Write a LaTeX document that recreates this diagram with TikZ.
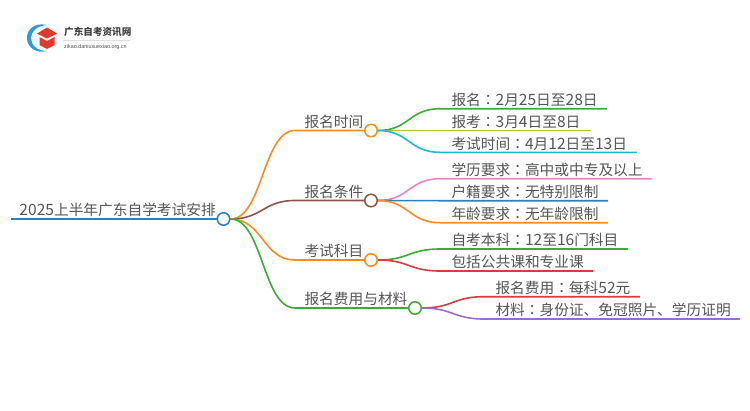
\documentclass[tikz,border=0pt]{standalone}
\usepackage{xcolor}
\usepackage{fontspec}
\setmainfont{Noto Sans CJK SC}
\newfontfamily\tcfont{Noto Sans CJK TC}
\newfontfamily\numfont[Scale=1.06]{Noto Sans CJK SC}
\newfontfamily\urlfont{Liberation Sans}
\usetikzlibrary{calc, backgrounds}
\definecolor{txtgray}{HTML}{555555}
\definecolor{cblue}{HTML}{2F7FBF}
\definecolor{corange}{HTML}{FF8A1E}
\definecolor{cbrown}{HTML}{8C564B}
\definecolor{cgreen}{HTML}{3DAA35}
\definecolor{colive}{HTML}{BCBD22}
\definecolor{ccyan}{HTML}{17BECF}
\definecolor{cpink}{HTML}{E884CC}
\definecolor{cred}{HTML}{DC3A3C}
\definecolor{cpurple}{HTML}{9A6CCB}
\definecolor{logoblue}{HTML}{2A9BDC}
\definecolor{logored}{HTML}{E03A2F}
\newcommand{\fwcolon}{{\tcfont：}}
\newcommand{\dg}[1]{{\numfont #1}}

\begin{document}
\begin{tikzpicture}[
    x=1pt, y=-1pt,
    dot/.style={circle, draw, fill=white, line width=1.5pt, minimum size=12.5pt, inner sep=0pt},
    label/.style={anchor=base west, inner sep=0pt, yshift=3.2pt, xshift=-0.7pt, font=\fontsize{14.7}{16}\selectfont, text=txtgray},
    link/.style={to path={let \p1=(\tikztostart), \p2=(\tikztotarget) in
        (\p1) .. controls ({(\x1+\x2)/2},\y1) and ({(\x1+\x2)/2},\y2) .. (\p2)}},
    conn/.style={line width=1.6pt}
]
    \useasboundingbox (0,0) rectangle (750,410);

    % logo
    \fill[logoblue] (47,25) .. controls (34,22) and (27,30) .. (27,38) .. controls (27,47) and (36,54) .. (47,51) .. controls (37,51) and (31,45) .. (31,38) .. controls (31,31) and (37,26) .. (47,25) -- cycle;
    \fill[logored] (37,33.5) -- (47,27.5) -- (57,33.5) -- (47,38.5) -- cycle;
    \fill[logored] (39.5,37) -- (47,41) -- (54.5,37) -- (54.5,45) -- (47,49) -- (39.5,45) -- cycle;
    \node[anchor=base west, inner sep=0pt, font=\fontsize{9.6}{11}\selectfont\bfseries, text=black!75] (logotitle) at (64,35) {广东自考资讯网};
    \draw[black!12, line width=0.5pt] (63,40.5) -- (130,40.5);
    \node[anchor=base west, inner sep=0pt, font=\urlfont\fontsize{5.4}{6}\selectfont, text=black!70] (logourl) at (64,48) {zikao.daniuxuexiao.org.cn};

    % coordinates of the lines
    \coordinate (rootstart) at (11,219);
    \coordinate (timeline) at (295,130.5);
    \coordinate (condline) at (295,200.5);
    \coordinate (examline) at (295,260);
    \coordinate (feeline) at (295,308);
    \foreach \name/\xa/\xb/\ypos in {
        signup/440/607/108.7, sit/440/591/130.5, examdate/440/637/152.3,
        edu/440/652/178.7, huji/440/608/200.7, age/440/608/222.7,
        self/440/628/249, course/440/593/271,
        fee/484/640/296.7, docs/484/740/319} {
        \coordinate (\name a) at (\xa,\ypos);
        \coordinate (\name b) at (\xb,\ypos);
    }

    % circles
    \node[dot, draw=cblue] (root) at (223.5,219) {};
    \node[dot, draw=corange] (time) at (371,130.5) {};
    \node[dot, draw=cbrown] (cond) at (371,200.5) {};
    \node[dot, draw=corange] (exam) at (371,260) {};
    \node[dot, draw=cgreen] (feedot) at (415,308) {};

    % connectors
    \begin{scope}[on background layer]
    \draw[conn, cblue] (rootstart) -- (root.west);
    \foreach \dst/\lineend/\col in {time/timeline/corange, cond/condline/cbrown, exam/examline/corange, feedot/feeline/cgreen}
        \draw[conn, \col] (root.east) to[link] (\lineend) -- (\dst.west);
    \foreach \src/\dst/\col in {
        time/signup/cgreen, time/sit/colive, time/examdate/ccyan,
        cond/edu/cpink, cond/huji/cblue, cond/age/corange,
        exam/self/cgreen, exam/course/cred,
        feedot/fee/cred, feedot/docs/cpurple}
        \draw[conn, \col] (\src.east) to[link] (\dst a) -- (\dst b);
    \end{scope}

    % texts
    \node[label] (roottext) at (20,219) {\dg{2025}上半年广东自学考试安排};
    \node[label] (timetext) at (305,130.5) {报名时间};
    \node[label] (condtext) at (305,200.5) {报名条件};
    \node[label] (examtext) at (305,260) {考试科目};
    \node[label] (feetext) at (305,308) {报名费用与材料};
    \node[label] (signuptext) at (452,108.7) {报名\fwcolon\dg{2}月\dg{25}日至\dg{28}日};
    \node[label] (sittext) at (452,130.5) {报考\fwcolon\dg{3}月\dg{4}日至\dg{8}日};
    \node[label] (examdatetext) at (452,152.3) {考试时间\fwcolon\dg{4}月\dg{12}日至\dg{13}日};
    \node[label] (edutext) at (452,178.7) {学历要求\fwcolon 高中或中专及以上};
    \node[label] (hujitext) at (452,200.7) {户籍要求\fwcolon 无特别限制};
    \node[label] (agetext) at (452,222.7) {年龄要求\fwcolon 无年龄限制};
    \node[label] (selftext) at (452,249) {自考本科\fwcolon\dg{12}至\dg{16}门科目};
    \node[label] (coursetext) at (452,271) {包括公共课和专业课};
    \node[label] (feeitem) at (496,296.7) {报名费用\fwcolon 每科\dg{52}元};
    \node[label] (docstext) at (496,319) {材料\fwcolon 身份证、免冠照片、学历证明};
\end{tikzpicture}
\end{document}
